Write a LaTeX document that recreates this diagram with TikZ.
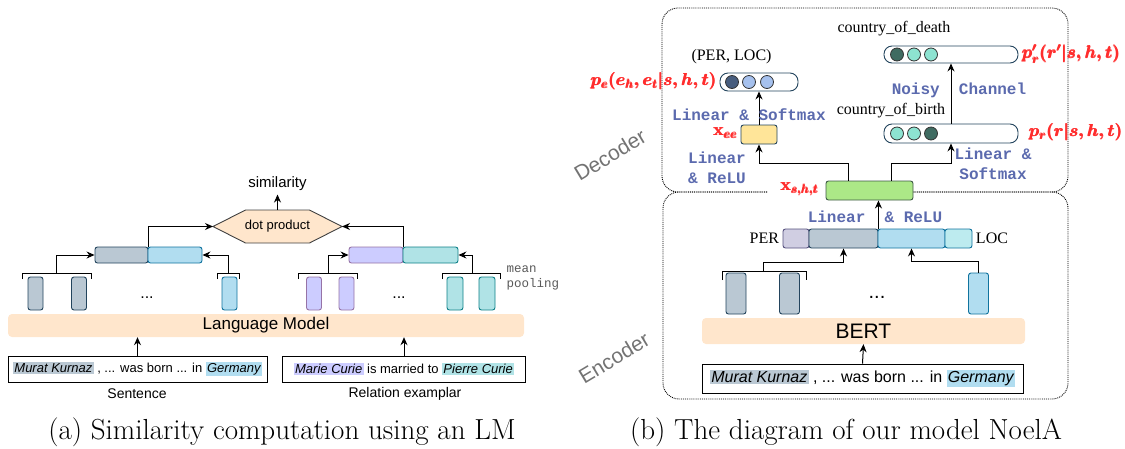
\documentclass[tikz,border=0pt]{standalone}
\usepackage{amsmath}
\usepackage{fontspec}
\usetikzlibrary{arrows.meta}
\newfontfamily\arialf{Liberation Sans}
\newfontfamily\timesf{Liberation Serif}
\newfontfamily\courf{Liberation Mono}
\newcommand{\fsz}[2]{\fontsize{#1}{#2}\selectfont}
\newcommand{\hlt}[2]{{\setlength{\fboxsep}{1.2pt}\colorbox{#1}{\itshape #2}}}
\definecolor{grayF}{HTML}{BAC8D3}
\definecolor{grayD}{HTML}{23445D}
\definecolor{blueF}{HTML}{B1DDF0}
\definecolor{blueD}{HTML}{10739E}
\definecolor{purpF}{HTML}{CCCCFF}
\definecolor{purpD}{HTML}{9673A6}
\definecolor{lilaF}{HTML}{D0CEE2}
\definecolor{lilaD}{HTML}{56517E}
\definecolor{tealF}{HTML}{B0E3E6}
\definecolor{tealD}{HTML}{0E8088}
\definecolor{cyanF}{HTML}{BDEBEF}
\definecolor{peach}{HTML}{FFE6CC}
\definecolor{greenF}{HTML}{ACE887}
\definecolor{greenD}{HTML}{3D5A45}
\definecolor{yellF}{HTML}{FFE599}
\definecolor{navyC}{HTML}{475D7E}
\definecolor{lblueC}{HTML}{A6C1EE}
\definecolor{dtealC}{HTML}{3F6B61}
\definecolor{lltealC}{HTML}{8DE3D1}
\definecolor{slate}{HTML}{5B6AAE}
\definecolor{redlab}{HTML}{FF2D2D}
\begin{document}
\begin{tikzpicture}[
    x=1pt,y=-1pt,
    every node/.style={font=\arialf\fsz{14}{16}},
    arr/.style={line width=1pt, -{Stealth[length=8pt,width=7pt]}},
    brk/.style={line width=1pt},
    box/.style={rounded corners=2.5pt, line width=0.9pt, inner sep=0pt},
    tokG/.style={box, fill=grayF, draw=grayD},
    tokB/.style={box, fill=blueF, draw=blueD},
    tokP/.style={box, fill=purpF, draw=purpD},
    tokT/.style={box, fill=tealF, draw=tealD},
    lmbar/.style={fill=peach, rounded corners=4pt, inner sep=0pt},
    sentbox/.style={draw=black, line width=0.9pt, inner sep=0pt},
    pill/.style={draw=grayD, fill=white, rounded corners=8pt, line width=0.9pt, inner sep=0pt},
    dotc/.style={circle, draw=black!80, line width=0.8pt, minimum size=13pt, inner sep=0pt},
    frame/.style={densely dotted, line width=0.9pt, rounded corners=16pt},
    codelab/.style={font=\courf\bfseries\fsz{16}{20}, text=slate, align=center},
    serlab/.style={font=\timesf\fsz{16}{18}},
    mathlab/.style={font=\boldmath\fsz{17}{20}, text=redlab, inner sep=1pt}
]
    \useasboundingbox (0,0) rectangle (1125,448);

    % (a)
    \node[lmbar, minimum width=516pt, minimum height=23pt] (lm) at (266,325.5) {};
    \node[font=\arialf\fsz{17}{20}] (lmtext) at (266,325.5) {Language Model};

    \foreach \cx/\nm in {35.5/aG1,79/aG2} {
        \node[tokG, minimum width=15pt, minimum height=33pt] (\nm) at (\cx,293.5) {};
    }
    \node[tokB, minimum width=15pt, minimum height=33pt] (aB1) at (229.5,293.5) {};
    \foreach \cx/\nm in {314/aP1,346.5/aP2} {
        \node[tokP, minimum width=15pt, minimum height=33pt] (\nm) at (\cx,293.5) {};
    }
    \foreach \cx/\nm in {455/aT1,487/aT2} {
        \node[tokT, minimum width=16pt, minimum height=33pt] (\nm) at (\cx,293.5) {};
    }
    \node[font=\arialf\fsz{16}{16}] (adots1) at (147,298) {...};
    \node[font=\arialf\fsz{16}{16}] (adots2) at (399,298) {...};

    \node[tokG, minimum width=53pt, minimum height=16pt] (aGbar) at (121.5,255) {};
    \node[tokB, minimum width=54pt, minimum height=16pt] (aBbar) at (175,255) {};
    \node[tokP, minimum width=54pt, minimum height=16pt] (aPbar) at (376,255) {};
    \node[tokT, minimum width=55pt, minimum height=16pt] (aTbar) at (430.5,255) {};

    \draw[brk] (22,279) -- (22,273) -- (91,273) -- (91,279);
    \draw[brk] (217,279) -- (217,273) -- (239,273) -- (239,279);
    \draw[brk] (298,279) -- (298,273) -- (357,273) -- (357,279);
    \draw[brk] (442,279) -- (442,273) -- (500,273) -- (500,279);
    \coordinate (aGmid) at (56,273);
    \coordinate (aBmid) at (228,273);
    \coordinate (aPmid) at (328,273);
    \coordinate (aTmid) at (472,273);
    \draw[arr] (aGmid) |- (aGbar.west);
    \draw[arr] (aBmid) |- (aBbar.east);
    \draw[arr] (aPmid) |- (aPbar.west);
    \draw[arr] (aTmid) |- (aTbar.east);

    \coordinate (dotW) at (213,226.5);
    \coordinate (dotE) at (342,226.5);
    \coordinate (dotN) at (277.5,210);
    \draw[fill=peach, draw=black!75, line width=0.9pt] (dotW) -- (245.5,210) -- (309.5,210) -- (dotE) -- (309.5,243) -- (245.5,243) -- cycle;
    \node[font=\arialf\fsz{13}{15}] (dot) at (277.5,226.5) {dot product};
    \node[font=\arialf\fsz{15}{17}] (sim) at (277.5,184) {similarity};
    \draw[arr] (dotN) -- (sim.south);
    \draw[arr] (aGbar.north east) |- (dotW);
    \draw[arr] (aPbar.north east) |- (dotE);

    \node[font=\courf\fsz{12.5}{15}, text=black!65, align=left, anchor=west] (pool) at (503,277.5) {mean\\pooling};

    \node[sentbox, minimum width=259pt, minimum height=26pt] (sA) at (137.5,369) {};
    \node[font=\arialf\fsz{13}{15}] (sAtext) at (137.5,369) {\hlt{grayF}{Murat Kurnaz} , ... was born ... in \hlt{blueF}{Germany}};
    \node[sentbox, minimum width=243pt, minimum height=26pt] (rA) at (404,369) {};
    \node[font=\arialf\fsz{13}{15}] (rAtext) at (404,369) {\hlt{purpF}{Marie Curie} is married to \hlt{tealF}{Pierre Curie}};
    \node (sAlab) at (137,394) {Sentence};
    \node (rAlab) at (405,394) {Relation examplar};
    \draw[arr] (sA.north) -- (sA.north |- lm.south);
    \draw[arr] (rA.north) -- (rA.north |- lm.south);

    % (b)
    \draw[frame] (767,192) -- (662,192) -- (662,8) -- (1068,8) -- (1068,192) -- (913,192);
    \draw[frame] (767,192) -- (663,192) -- (663,399) -- (1068,399) -- (1068,192) -- (913,192);
    \node[rotate=31, text=black!55, font=\arialf\fsz{21}{24}] (declab) at (610,155) {Decoder};
    \node[rotate=31, text=black!55, font=\arialf\fsz{21}{24}] (enclab) at (614,358) {Encoder};

    \node[lmbar, minimum width=323pt, minimum height=26pt] (bert) at (863.5,331) {};
    \node[font=\arialf\fsz{21}{24}] (berttext) at (863.5,331) {BERT};
    \node[sentbox, minimum width=321pt, minimum height=29pt] (sB) at (862.5,378.5) {};
    \node[font=\arialf\fsz{16}{18}] (sBtext) at (862.5,378.5) {\hlt{grayF}{Murat Kurnaz} , ... was born ... in \hlt{blueF}{Germany}};
    \draw[arr] (sB.north) -- (bert.south);

    \node[tokG, minimum width=20pt, minimum height=41pt] (bG1) at (736,293.5) {};
    \node[tokG, minimum width=20pt, minimum height=41pt] (bG2) at (789.5,293.5) {};
    \node[tokB, minimum width=20pt, minimum height=41pt] (bB1) at (978.5,293.5) {};
    \node[font=\arialf\fsz{20}{20}] (bdots) at (877,297) {...};

    \node[box, fill=lilaF, draw=lilaD, minimum width=26pt, minimum height=19pt] (cP) at (796,238.5) {};
    \node[tokG, minimum width=69pt, minimum height=19pt] (cG) at (843.5,238.5) {};
    \node[tokB, minimum width=67pt, minimum height=19pt] (cB) at (911.5,238.5) {};
    \node[box, fill=cyanF, draw=blueD, minimum width=27pt, minimum height=19pt] (cT) at (958.5,238.5) {};
    \node[serlab, anchor=east] (perlab) at (cP.west) {PER};
    \node[serlab, anchor=west] (loclab) at (cT.east) {LOC};

    \draw[brk] (722,280) -- (722,271) -- (806,271) -- (806,280);
    \coordinate (bGmid) at (763,271);
    \draw[arr] (bGmid) -- ++(0,-9) -| (cG.south);
    \draw[arr] (bB1.north) -- ++(0,-11) -| (cB.south);

    \node[box, fill=greenF, draw=greenD, minimum width=87pt, minimum height=19pt] (xs) at (869.5,190.5) {};
    \node[mathlab, anchor=east] (xslab) at (820,189) {$\pmb{\mathbf{x}_{s,h,t}}$};
    \draw[arr] (cG.north east) -- (cG.north east |- xs.south);
    \node[codelab] (relu1) at (875,217) {Linear \ \& ReLU};

    \node[box, fill=yellF, draw=grayD, minimum width=36pt, minimum height=19pt] (xee) at (759,134.5) {};
    \node[mathlab, anchor=east] (xeelab) at (739,133) {$\pmb{\mathbf{x}_{ee}}$};
    \draw[arr] ([xshift=-21.5pt]xs.north) -- ++(0,-17) -| (xee.south);
    \node[codelab] (relu2) at (717,168) {Linear\\\& ReLU};

    \node[pill, minimum width=78pt, minimum height=18pt] (ent) at (759,82) {};
    \foreach \cx/\cc/\nm in {732/navyC/ec1,749/lblueC/ec2,767/lblueC/ec3} {
        \node[dotc, fill=\cc] (\nm) at (\cx,82) {};
    }
    \draw[arr] (xee.north) -- (ent.south);
    \node[codelab] (soft1) at (749,115) {Linear \& Softmax};
    \node[serlab] (pairlab) at (731.5,57) {(PER, LOC)};
    \node[mathlab, anchor=east] (pelab) at (718,81) {$\pmb{p_e(e_h,e_t|s,h,t)}$};

    \node[pill, minimum width=134pt, minimum height=19pt] (birth) at (951,133.5) {};
    \foreach \cx/\cc/\nm in {897/lltealC/bc1,914/lltealC/bc2,931/dtealC/bc3} {
        \node[dotc, fill=\cc] (\nm) at (\cx,133.5) {};
    }
    \draw[arr] ([xshift=21.5pt]xs.north) -- ++(0,-17) -| (birth.south);
    \node[codelab] (soft2) at (993,164) {Linear \&\\Softmax};
    \node[serlab] (birthlab) at (891,111) {country\_of\_birth};
    \node[mathlab, anchor=west] (prlab) at (1028,132) {$\pmb{p_r(r|s,h,t)}$};

    \node[pill, minimum width=134pt, minimum height=17pt] (death) at (951,54.5) {};
    \foreach \cx/\cc/\nm in {897/dtealC/dc1,914/lltealC/dc2,931/lltealC/dc3} {
        \node[dotc, fill=\cc] (\nm) at (\cx,54.5) {};
    }
    \draw[arr] (birth.north) -- (death.south);
    \node[codelab] (noisy) at (959,90) {Noisy \ Channel};
    \node[serlab] (deathlab) at (894,29) {country\_of\_death};
    \node[mathlab, anchor=west] (pr2lab) at (1021,54) {$\pmb{p'_r(r'|s,h,t)}$};

    \node[font=\fsz{29}{34}] (capA) at (282,432) {(a) Similarity computation using an LM};
    \node[font=\fsz{29}{34}] (capB) at (846,432) {(b) The diagram of our model NoelA};
\end{tikzpicture}
\end{document}
